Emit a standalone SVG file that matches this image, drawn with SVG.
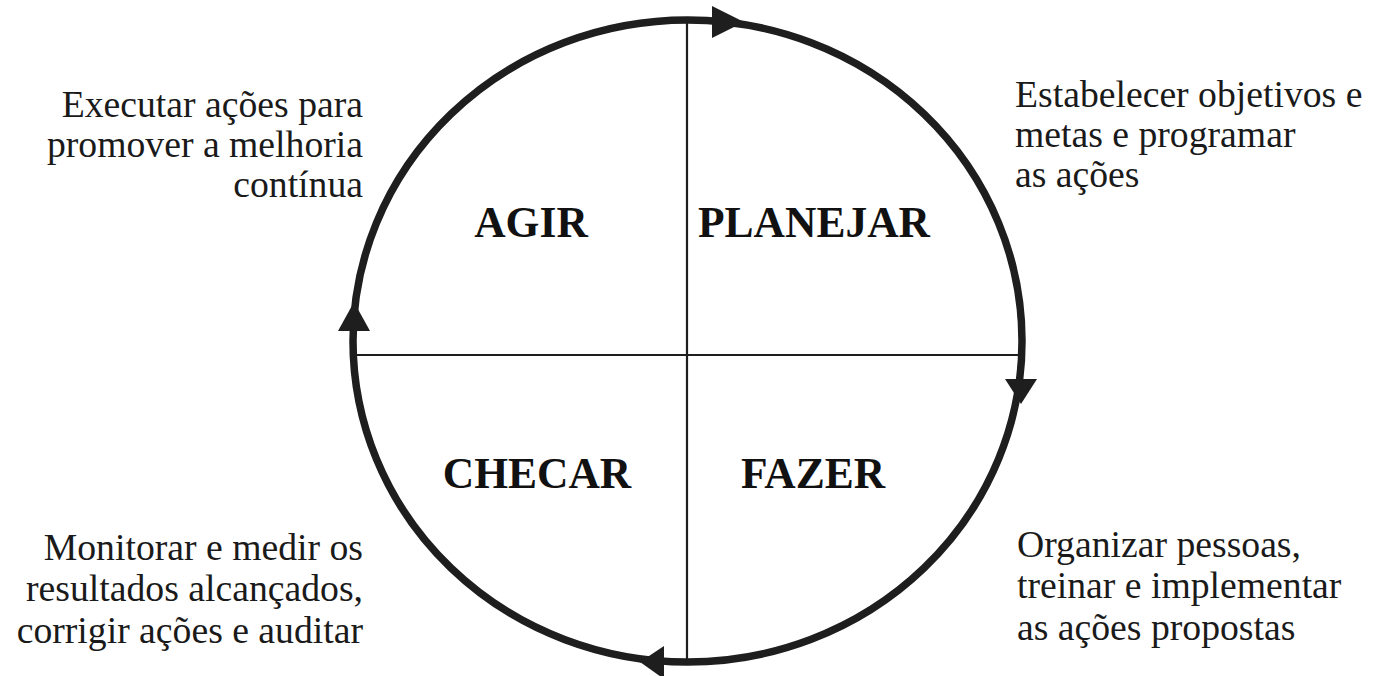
<svg xmlns="http://www.w3.org/2000/svg" width="1377" height="676" viewBox="0 0 1377 676">
<style>
.ring{fill:none;stroke:#1e1e1e;stroke-width:7.5}
.axis{stroke:#1e1e1e;stroke-width:2.2}
.head{fill:#1e1e1e}
.lbl{font-family:"Liberation Serif","Times New Roman",serif;font-weight:bold;font-size:43.5px;fill:#111;text-anchor:middle}
.desc{font-family:"Liberation Serif","Times New Roman",serif;font-size:37.7px;fill:#1a1a1a}
.r{text-anchor:end}
</style>
<rect width="1377" height="676" fill="#fff"/>
<g id="connectors">
<ellipse class="ring" cx="687.5" cy="341" rx="334.5" ry="321"/>
<line class="axis" x1="687" y1="20" x2="687" y2="662"/>
<line class="axis" x1="353" y1="355" x2="1022" y2="355"/>
<polygon class="head" points="744,22 712,6 712,38"/>
<polygon class="head" points="1021,404 1005,379 1037,379"/>
<polygon class="head" points="640,662 664,646 664,679"/>
<polygon class="head" points="354,302 338,331 370,331"/>
</g>
<g id="agir"><text class="lbl" x="531" y="237">AGIR</text></g>
<g id="planejar"><text class="lbl" x="814" y="237">PLANEJAR</text></g>
<g id="checar"><text class="lbl" x="537" y="488">CHECAR</text></g>
<g id="fazer"><text class="lbl" x="813" y="488">FAZER</text></g>
<g id="desc-agir"><text class="desc r" x="363" y="117">Executar ações para</text><text class="desc r" x="363" y="157">promover a melhoria</text><text class="desc r" x="363" y="197">contínua</text></g>
<g id="desc-planejar"><text class="desc" x="1015" y="107">Estabelecer objetivos e</text><text class="desc" x="1015" y="147">metas e programar</text><text class="desc" x="1015" y="187">as ações</text></g>
<g id="desc-checar"><text class="desc r" x="363" y="560">Monitorar e medir os</text><text class="desc r" x="363" y="601">resultados alcançados,</text><text class="desc r" x="363" y="643">corrigir ações e auditar</text></g>
<g id="desc-fazer"><text class="desc" x="1017" y="557">Organizar pessoas,</text><text class="desc" x="1017" y="598">treinar e implementar</text><text class="desc" x="1017" y="640">as ações propostas</text></g>
</svg>
